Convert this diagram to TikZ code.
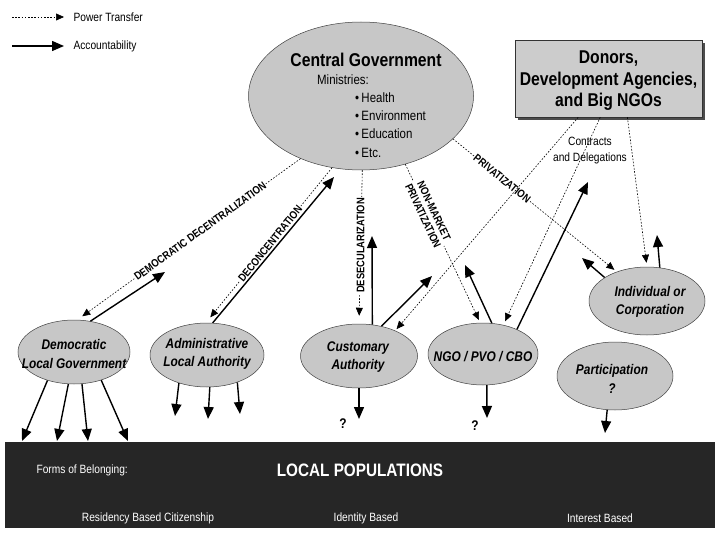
\documentclass[tikz,border=0pt]{standalone}
\usepackage{fontspec}
\setmainfont{Liberation Sans}[FakeStretch=0.85]
\usetikzlibrary{arrows.meta,shapes.geometric}
\begin{document}
\begin{tikzpicture}[x=1pt,y=-1pt,
  pt/.style={draw, line width=0.6pt, dash pattern=on 1.6pt off 1.6pt, -{Triangle[length=8pt,width=7pt]}},
  acc/.style={draw, line width=1.4pt, -{Triangle[length=12pt,width=10pt]}},
  bubble/.style={ellipse, draw=black!75, line width=0.5pt, fill=black!22, inner sep=0pt},
  elab/.style={font=\bfseries\itshape\fontsize{14}{18.5}\selectfont, align=center, inner sep=0pt},
  rlab/.style={font=\bfseries\fontsize{11}{12}\selectfont, fill=white, inner sep=1pt, align=center},
  leg/.style={font=\fontsize{12}{14}\selectfont, anchor=west},
  bul/.style={font=\fontsize{13.5}{15}\selectfont, anchor=west, inner sep=0pt},
  big/.style={font=\bfseries\fontsize{18.5}{21.5}\selectfont, align=center},
  bartxt/.style={text=white, font=\fontsize{12}{14}\selectfont},
  qm/.style={font=\bfseries\fontsize{14}{16}\selectfont}
]
\useasboundingbox (0,0) rectangle (720,540);

% legend
\coordinate (l1a) at (12,17); \coordinate (l1b) at (64,17);
\coordinate (l2a) at (12,46); \coordinate (l2b) at (64,46);
\draw[pt] (l1a) -- (l1b);
\draw[acc] (l2a) -- (l2b);
\node[leg] (l1t) at (70,17) {Power Transfer};
\node[leg] (l2t) at (70,46) {Accountability};

% central government
\node[bubble, minimum width=225pt, minimum height=148pt] (cg) at (361,96) {};
\node[big] (cgt) at (366,60) {Central Government};
\node[font=\fontsize{13.5}{15}\selectfont] (min) at (343,80) {Ministries:};
\node[bul] (b1) at (355,98) {\textbullet\,Health};
\node[bul] (b2) at (355,116) {\textbullet\,Environment};
\node[bul] (b3) at (355,134) {\textbullet\,Education};
\node[bul] (b4) at (355,153) {\textbullet\,Etc.};

% donors
\fill[black!70] (518,43) rectangle (705,120);
\node[draw=black!80, line width=0.5pt, fill=black!20, minimum width=187pt, minimum height=77pt, inner sep=0pt] (don) at (608.5,78.5) {};
\node[big] (dont) at (608.5,81) {Donors,\\Development Agencies,\\and Big NGOs};
\node[font=\fontsize{12}{16}\selectfont, align=center] (cnt) at (590,151) {Contracts\\and Delegations};

% local nodes
\node[bubble, minimum width=112pt, minimum height=64pt] (dlg) at (74,352) {};
\node[elab] (dlgt) at (74,354) {Democratic\\Local Government};
\node[bubble, minimum width=114pt, minimum height=64pt] (adm) at (207,355) {};
\node[elab] (admt) at (207,354) {Administrative\\Local Authority};
\node[bubble, minimum width=117pt, minimum height=64pt] (ca) at (359,356) {};
\node[elab] (cat) at (358,357) {Customary\\Authority};
\node[bubble, minimum width=110pt, minimum height=62pt] (ngo) at (483,354) {};
\node[elab] (ngot) at (483,357) {NGO / PVO / CBO};
\node[bubble, minimum width=116pt, minimum height=68pt] (ind) at (647,301) {};
\node[elab] (indt) at (650,302) {Individual or\\Corporation};
\node[bubble, minimum width=116pt, minimum height=68pt] (par) at (615,376) {};
\node[elab] (part) at (612,379) {Participation\\?};

% local populations bar
\node[fill=black!85, minimum width=710pt, minimum height=86pt, inner sep=0pt] (lp) at (360,485) {};
\node[bartxt, anchor=west] (fob) at (33,470) {Forms of Belonging:};
\node[text=white, font=\bfseries\fontsize{18}{20}\selectfont] (lpt) at (360,470) {LOCAL POPULATIONS};
\node[bartxt] (rbc) at (148,518) {Residency Based Citizenship};
\node[bartxt] (idb) at (366,518) {Identity Based};
\node[bartxt] (inb) at (600,518) {Interest Based};

% power transfer (dotted)
\draw[pt, shorten >=6pt] (cg.226) -- node[rlab, sloped, pos=0.45] {DEMOCRATIC DECENTRALIZATION} (dlg.84);
\draw[pt, shorten >=7pt] (cg.248) -- node[rlab, sloped, pos=0.49] {DECONCENTRATION} (adm.92);
\draw[pt, shorten >=8pt] (cg.271) -- node[rlab, rotate=90, pos=0.49] {DESECULARIZATION} (ca.north);
\draw[pt, shorten >=3pt] (cg.-57) -- node[rlab, sloped, pos=0.31] {NON-MARKET\\PRIVATIZATION} (ngo.95);
\draw[pt, shorten >=3pt] (cg.-25) -- node[rlab, sloped, pos=0.30] {PRIVATIZATION} (ind.136);
\draw[pt, shorten >=2pt] (don.232) -- (ca.35);
\draw[pt, shorten >=4pt] (don.258) -- (ngo.55);
\draw[pt, shorten >=4pt] (don.296) -- (ind.north);

% accountability (solid)
\coordinate (dlgup) at (165,272);
\coordinate (admup) at (334,177);
\coordinate (caup) at (372,236);
\coordinate (caur) at (432,276);
\coordinate (ngoul) at (465,265);
\coordinate (ngour) at (588,182);
\coordinate (indul) at (582,258);
\coordinate (indup) at (657,235);
\draw[acc] (dlg.62) -- (dlgup);
\draw[acc] (adm.80) -- (admup);
\draw[acc] (ca.67) -- (caup);
\draw[acc] (ca.53) -- (caur);
\draw[acc] (ngo.74) -- (ngoul);
\draw[acc] (ngo.36) -- (ngour);
\draw[acc] (ind.151) -- (indul);
\draw[acc] (ind.69) -- (indup);

% arrows to local populations
\coordinate (d1) at (22,441); \coordinate (d2) at (57,441);
\coordinate (d3) at (88,441); \coordinate (d4) at (128,441);
\coordinate (a1) at (175,416); \coordinate (a2) at (208,419); \coordinate (a3) at (240,414);
\coordinate (c1) at (359,419); \coordinate (n1) at (487,418); \coordinate (p1) at (605,433);
\draw[acc] (dlg.227) -- (d1);
\draw[acc] (dlg.260) -- (d2);
\draw[acc] (dlg.284) -- (d3);
\draw[acc] (dlg.314) -- (d4);
\draw[acc] (adm.225) -- (a1);
\draw[acc] (adm.275) -- (a2);
\draw[acc] (adm.318) -- (a3);
\draw[acc] (ca.south) -- (c1);
\draw[acc] (ngo.277) -- (n1);
\draw[acc] (par.257) -- (p1);
\node[qm] (q1) at (343,424) {?};
\node[qm] (q2) at (475,426) {?};
\end{tikzpicture}
\end{document}
